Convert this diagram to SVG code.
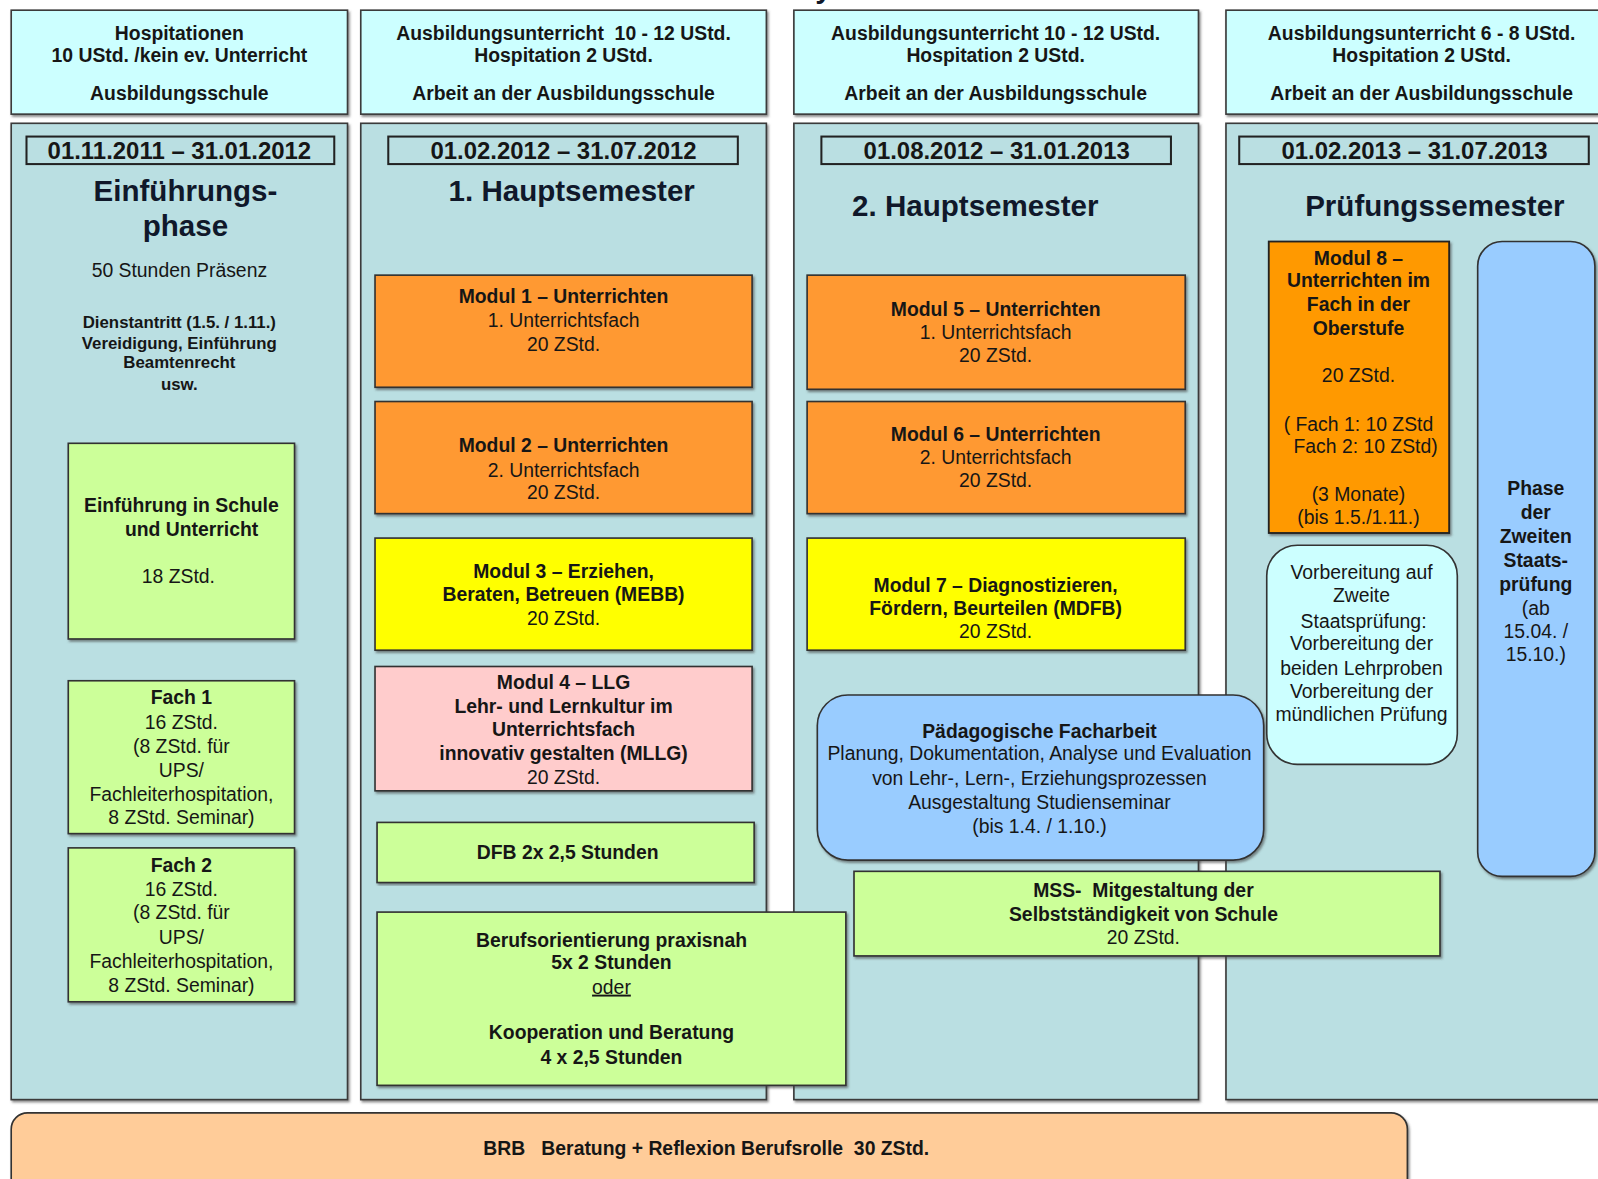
<svg xmlns="http://www.w3.org/2000/svg" width="1598" height="1179" viewBox="0 0 1598 1179">
<defs>
<filter id="sh" x="-5%" y="-5%" width="110%" height="110%">
<feDropShadow dx="1.5" dy="2" stdDeviation="0.8" flood-color="#444" flood-opacity="0.6"/>
</filter>
<style>
.hdr{fill:#CCFFFF;stroke:#3a3a3a;stroke-width:1.6;filter:url(#sh)}
.col{fill:#BADFE2;stroke:#3a3a3a;stroke-width:1.6;filter:url(#sh)}
.date{fill:#BADFE2;stroke:#222;stroke-width:2}
.or{fill:#FF9933;stroke:#333;stroke-width:1.6;filter:url(#sh)}
.or2{fill:#FF9900;stroke:#222;stroke-width:1.8;filter:url(#sh)}
.ye{fill:#FFFF00;stroke:#333;stroke-width:1.6;filter:url(#sh)}
.pk{fill:#FFCCCC;stroke:#333;stroke-width:1.6;filter:url(#sh)}
.gr{fill:#CCFF99;stroke:#333;stroke-width:1.6;filter:url(#sh)}
.bl{fill:#99CCFF;stroke:#333;stroke-width:1.6;filter:url(#sh)}
.cy{fill:#CCFFFF;stroke:#333;stroke-width:1.6}
.brb{fill:#FFCC99;stroke:#333;stroke-width:1.6;filter:url(#sh)}
text{font-family:"Liberation Sans",Arial,sans-serif;font-size:19px;fill:#161616;text-anchor:middle}
.b{font-weight:bold}
.s{font-size:16.5px;font-weight:bold}
.d{font-size:23.5px;font-weight:bold}
.ti{font-size:29px;font-weight:bold;fill:#10182a}
</style>
</defs>
<rect width="1598" height="1179" fill="#ffffff"/>
<g transform="scale(1.0191)">
<text class="ti" x="808" y="-2">y</text>
<g id="headers">
<g id="header1"><rect class="hdr" x="11" y="10" width="330" height="102"/>
<text class="b"><tspan x="176" y="39">Hospitationen</tspan><tspan x="176" y="61">10 UStd. /kein ev. Unterricht</tspan><tspan x="176" y="98">Ausbildungsschule</tspan></text></g>
<g id="header2"><rect class="hdr" x="354" y="10" width="398" height="102"/>
<text class="b" xml:space="preserve"><tspan x="553" y="39">Ausbildungsunterricht  10 - 12 UStd.</tspan><tspan x="553" y="61">Hospitation 2 UStd.</tspan><tspan x="553" y="98">Arbeit an der Ausbildungsschule</tspan></text></g>
<g id="header3"><rect class="hdr" x="779" y="10" width="397" height="102"/>
<text class="b"><tspan x="977" y="39">Ausbildungsunterricht 10 - 12 UStd.</tspan><tspan x="977" y="61">Hospitation 2 UStd.</tspan><tspan x="977" y="98">Arbeit an der Ausbildungsschule</tspan></text></g>
<g id="header4"><rect class="hdr" x="1203" y="10" width="400" height="102"/>
<text class="b"><tspan x="1395" y="39">Ausbildungsunterricht 6 - 8 UStd.</tspan><tspan x="1395" y="61">Hospitation 2 UStd.</tspan><tspan x="1395" y="98">Arbeit an der Ausbildungsschule</tspan></text></g>
</g>
<g id="panels">
<g id="phase1"><rect class="col" x="11" y="121" width="330" height="958"/>
<rect class="date" x="26" y="134" width="302" height="27"/><text class="d" x="176" y="156">01.11.2011 – 31.01.2012</text>
<text class="ti"><tspan x="182" y="197">Einführungs-</tspan><tspan x="182" y="232">phase</tspan></text>
<text x="176" y="272">50 Stunden Präsenz</text>
<text class="s"><tspan x="176" y="322">Dienstantritt (1.5. / 1.11.)</tspan><tspan x="176" y="342">Vereidigung, Einführung</tspan><tspan x="176" y="361">Beamtenrecht</tspan><tspan x="176" y="383">usw.</tspan></text></g>
<g id="phase2"><rect class="col" x="354" y="121" width="398" height="958"/>
<rect class="date" x="381" y="134" width="343" height="27"/><text class="d" x="553" y="156">01.02.2012 – 31.07.2012</text>
<text class="ti" x="561" y="197">1. Hauptsemester</text></g>
<g id="phase3"><rect class="col" x="779" y="121" width="397" height="958"/>
<rect class="date" x="806" y="134" width="343" height="27"/><text class="d" x="978" y="156">01.08.2012 – 31.01.2013</text>
<text class="ti" x="957" y="212">2. Hauptsemester</text></g>
<g id="phase4"><rect class="col" x="1203" y="121" width="400" height="958"/>
<rect class="date" x="1216" y="134" width="343" height="27"/><text class="d" x="1388" y="156">01.02.2013 – 31.07.2013</text>
<text class="ti" x="1408" y="212">Prüfungssemester</text></g>
</g>
<g id="einfuehrung"><rect class="gr" x="67" y="435" width="222" height="192"/>
<text><tspan class="b" x="178" y="502">Einführung in Schule</tspan><tspan class="b" x="188" y="526">und Unterricht</tspan><tspan x="175" y="572">18 ZStd.</tspan></text></g>
<g id="fach1"><rect class="gr" x="67" y="668" width="222" height="150"/>
<text><tspan class="b" x="178" y="691">Fach 1</tspan><tspan x="178" y="715">16 ZStd.</tspan><tspan x="178" y="739">(8 ZStd. für</tspan><tspan x="178" y="762">UPS/</tspan><tspan x="178" y="786">Fachleiterhospitation,</tspan><tspan x="178" y="809">8 ZStd. Seminar)</tspan></text></g>
<g id="fach2"><rect class="gr" x="67" y="832" width="222" height="151"/>
<text><tspan class="b" x="178" y="856">Fach 2</tspan><tspan x="178" y="879">16 ZStd.</tspan><tspan x="178" y="902">(8 ZStd. für</tspan><tspan x="178" y="926">UPS/</tspan><tspan x="178" y="950">Fachleiterhospitation,</tspan><tspan x="178" y="973">8 ZStd. Seminar)</tspan></text></g>
<g id="modul1"><rect class="or" x="368" y="270" width="370" height="110"/>
<text><tspan class="b" x="553" y="297">Modul 1 – Unterrichten</tspan><tspan x="553" y="321">1. Unterrichtsfach</tspan><tspan x="553" y="344">20 ZStd.</tspan></text></g>
<g id="modul2"><rect class="or" x="368" y="394" width="370" height="110"/>
<text><tspan class="b" x="553" y="444">Modul 2 – Unterrichten</tspan><tspan x="553" y="468">2. Unterrichtsfach</tspan><tspan x="553" y="490">20 ZStd.</tspan></text></g>
<g id="modul3"><rect class="ye" x="368" y="528" width="370" height="110"/>
<text><tspan class="b" x="553" y="567">Modul 3 – Erziehen,</tspan><tspan class="b" x="553" y="590">Beraten, Betreuen (MEBB)</tspan><tspan x="553" y="613">20 ZStd.</tspan></text></g>
<g id="modul4"><rect class="pk" x="368" y="654" width="370" height="122"/>
<text><tspan class="b" x="553" y="676">Modul 4 – LLG</tspan><tspan class="b" x="553" y="700">Lehr- und Lernkultur im</tspan><tspan class="b" x="553" y="722">Unterrichtsfach</tspan><tspan class="b" x="553" y="746">innovativ gestalten (MLLG)</tspan><tspan x="553" y="769">20 ZStd.</tspan></text></g>
<g id="dfb"><rect class="gr" x="370" y="807" width="370" height="59"/>
<text class="b" x="557" y="843">DFB 2x 2,5 Stunden</text></g>
<g id="berufsorientierung"><rect class="gr" x="370" y="895" width="460" height="170"/>
<text><tspan class="b" x="600" y="929">Berufsorientierung praxisnah</tspan><tspan class="b" x="600" y="951">5x 2 Stunden</tspan><tspan x="600" y="975" text-decoration="underline">oder</tspan><tspan class="b" x="600" y="1020">Kooperation und Beratung</tspan><tspan class="b" x="600" y="1044">4 x 2,5 Stunden</tspan></text></g>
<g id="modul5"><rect class="or" x="792" y="270" width="371" height="112"/>
<text><tspan class="b" x="977" y="310">Modul 5 – Unterrichten</tspan><tspan x="977" y="333">1. Unterrichtsfach</tspan><tspan x="977" y="355">20 ZStd.</tspan></text></g>
<g id="modul6"><rect class="or" x="792" y="394" width="371" height="110"/>
<text><tspan class="b" x="977" y="433">Modul 6 – Unterrichten</tspan><tspan x="977" y="455">2. Unterrichtsfach</tspan><tspan x="977" y="478">20 ZStd.</tspan></text></g>
<g id="modul7"><rect class="ye" x="792" y="528" width="371" height="110"/>
<text><tspan class="b" x="977" y="581">Modul 7 – Diagnostizieren,</tspan><tspan class="b" x="977" y="603">Fördern, Beurteilen (MDFB)</tspan><tspan x="977" y="626">20 ZStd.</tspan></text></g>
<g id="facharbeit"><rect class="bl" x="802" y="682" width="438" height="162" rx="30"/>
<text><tspan class="b" x="1020" y="724">Pädagogische Facharbeit</tspan><tspan x="1020" y="746">Planung, Dokumentation, Analyse und Evaluation</tspan><tspan x="1020" y="770">von Lehr-, Lern-, Erziehungsprozessen</tspan><tspan x="1020" y="794">Ausgestaltung Studienseminar</tspan><tspan x="1020" y="817">(bis 1.4. / 1.10.)</tspan></text></g>
<g id="mss"><rect class="gr" x="838" y="855" width="575" height="83"/>
<text xml:space="preserve"><tspan class="b" x="1122" y="880">MSS-  Mitgestaltung der</tspan><tspan class="b" x="1122" y="904">Selbstständigkeit von Schule</tspan><tspan x="1122" y="926">20 ZStd.</tspan></text></g>
<g id="modul8"><rect class="or2" x="1245" y="237" width="177" height="286"/>
<text xml:space="preserve"><tspan class="b" x="1333" y="260">Modul 8 –</tspan><tspan class="b" x="1333" y="282">Unterrichten im</tspan><tspan class="b" x="1333" y="305">Fach in der</tspan><tspan class="b" x="1333" y="329">Oberstufe</tspan><tspan x="1333" y="375">20 ZStd.</tspan><tspan x="1333" y="423">( Fach 1: 10 ZStd</tspan><tspan x="1340" y="445">Fach 2: 10 ZStd)</tspan><tspan x="1333" y="492">(3 Monate)</tspan><tspan x="1333" y="514">(bis 1.5./1.11.)</tspan></text></g>
<g id="vorbereitung"><rect class="cy" x="1243" y="535" width="187" height="215" rx="30"/>
<text><tspan x="1336" y="568">Vorbereitung auf</tspan><tspan x="1336" y="591">Zweite</tspan><tspan x="1338" y="616">Staatsprüfung:</tspan><tspan x="1336" y="638">Vorbereitung der</tspan><tspan x="1336" y="662">beiden Lehrproben</tspan><tspan x="1336" y="685">Vorbereitung der</tspan><tspan x="1336" y="707">mündlichen Prüfung</tspan></text></g>
<g id="staatspruefung"><rect class="bl" x="1450" y="237" width="115" height="623" rx="24"/>
<text><tspan class="b" x="1507" y="486">Phase</tspan><tspan class="b" x="1507" y="509">der</tspan><tspan class="b" x="1507" y="533">Zweiten</tspan><tspan class="b" x="1507" y="556">Staats-</tspan><tspan class="b" x="1507" y="580">prüfung</tspan><tspan x="1507" y="603">(ab</tspan><tspan x="1507" y="626">15.04. /</tspan><tspan x="1507" y="649">15.10.)</tspan></text></g>
<g id="brb"><rect class="brb" x="11" y="1092" width="1370" height="120" rx="16"/>
<text class="b" x="693" y="1133" xml:space="preserve">BRB   Beratung + Reflexion Berufsrolle  30 ZStd.</text></g>
<g id="connectors"/>
</g>
</svg>
